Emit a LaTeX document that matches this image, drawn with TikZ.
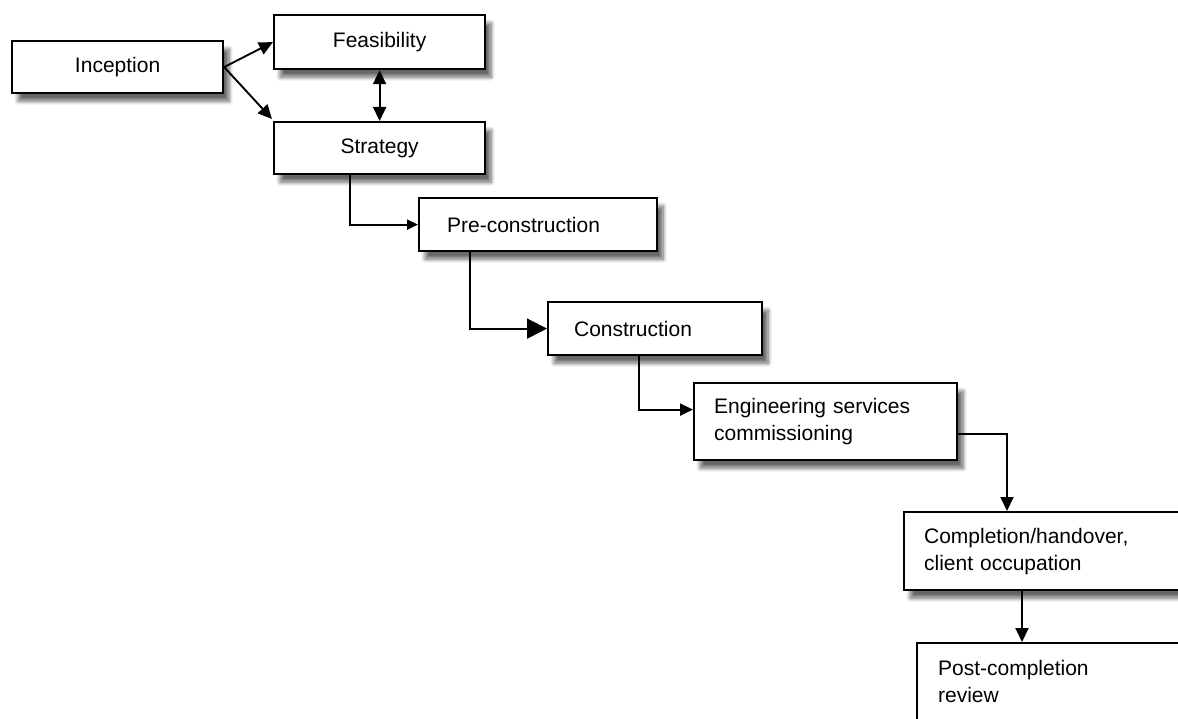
\documentclass[tikz,border=0pt]{standalone}
\usepackage{fontspec}
\setmainfont{Liberation Sans}
\usetikzlibrary{arrows.meta,shadows.blur}

\tikzset{
  stage/.style={draw=black, line width=2.2pt, fill=white, anchor=north west,
    inner sep=0pt, font=\fontsize{21}{27}\selectfont,
    blur shadow={shadow xshift=6pt, shadow yshift=-8pt,
      shadow blur radius=4pt, shadow blur steps=10, shadow opacity=60}},
  leftstage/.style={stage, align=left},
  link/.style={line width=1.9pt},
  flow/.style={link, -{Triangle[length=14pt, width=13pt]}},
}

\begin{document}
\begin{tikzpicture}[x=1pt, y=-1pt]
  \useasboundingbox (0,0) rectangle (1178,719);
  \clip (0,0) rectangle (1178,719);

  % stage boxes, top-left corner placed at (left, top)
  \node[stage, minimum width=211pt, minimum height=52pt] (inc) at (11,40) {Inception};
  \node[stage, minimum width=211pt, minimum height=54pt] (fea) at (273,14) {Feasibility};
  \node[stage, minimum width=211pt, minimum height=52pt] (str) at (273,121) {Strategy};
  \node[leftstage, minimum width=238pt, minimum height=53pt,
        text width=238pt] (pre) at (418,197)
        {\hspace*{28pt}Pre-construction};
  \node[leftstage, minimum width=214pt, minimum height=53pt,
        text width=214pt] (con) at (547,301)
        {\hspace*{26pt}Construction};
  \node[leftstage, minimum width=263pt, minimum height=77pt,
        text width=263pt] (eng) at (693,382)
        {\hspace*{20pt}\begin{tabular}{@{}l@{}}Engineering services\\commissioning\end{tabular}};
  \node[leftstage, minimum width=290pt, minimum height=78pt,
        text width=290pt] (com) at (903,511)
        {\hspace*{20pt}\begin{tabular}{@{}l@{}}Completion/handover,\\client occupation\end{tabular}};
  \node[leftstage, minimum width=290pt, minimum height=80pt,
        text width=290pt] (pos) at (916,642)
        {\hspace*{21pt}\begin{tabular}{@{}l@{}}Post-completion\\review\end{tabular}};

  % connectors
  \draw[flow] (inc.east) -- (fea.west);
  \draw[flow] (inc.east) -- ([xshift=-1pt,yshift=2pt]str.north west);
  \draw[link, {Triangle[length=14pt, width=13pt]}-{Triangle[length=14pt, width=13pt]}]
    (fea.south) -- (str.north);
  \draw[link, -{Triangle[length=11pt, width=10pt]}]
    ([xshift=77pt]str.south west) |- (pre.west);
  \draw[link, -{Triangle[length=20pt, width=20pt]}]
    ([xshift=52pt]pre.south west) |- (con.west);
  \draw[link, -{Triangle[length=13pt, width=12pt]}]
    ([xshift=92pt]con.south west) |- ([yshift=12pt]eng.west);
  \draw[flow] ([yshift=-12.5pt]eng.east) -| ([xshift=104pt]com.north west);
  \draw[flow] ([xshift=119pt]com.south west) -- ([xshift=106pt]pos.north west);
\end{tikzpicture}
\end{document}
